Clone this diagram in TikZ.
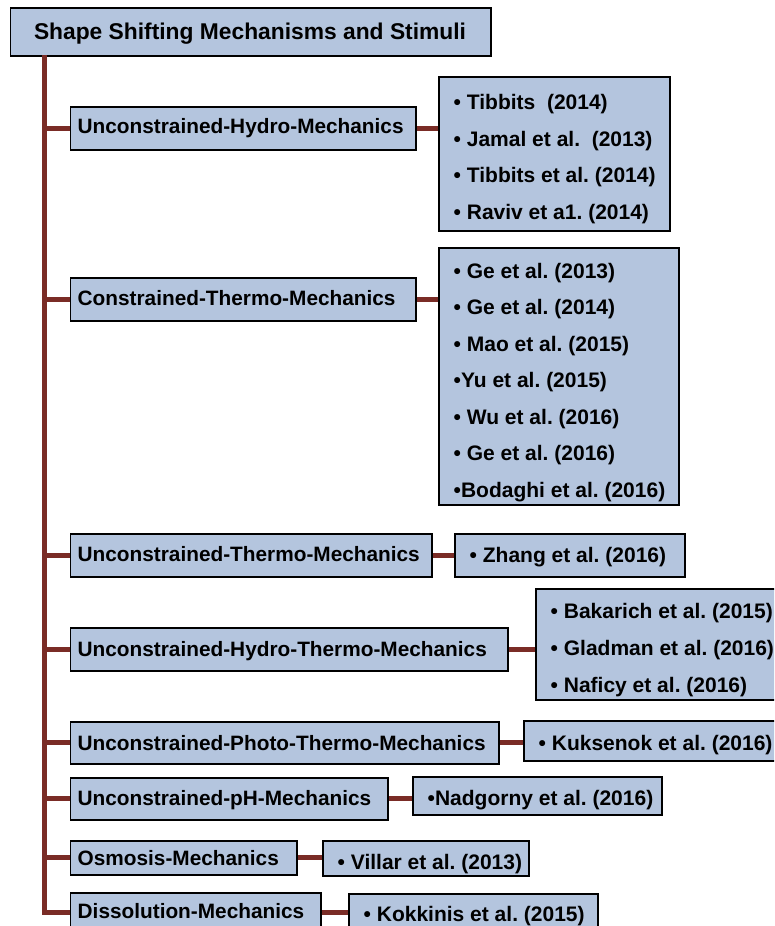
\documentclass[tikz,border=0pt]{standalone}
\usepackage{fontspec}
\setmainfont{Liberation Sans}
\frenchspacing
\definecolor{boxblue}{RGB}{180,197,222}
\definecolor{linkred}{RGB}{122,44,38}
\begin{document}
\begin{tikzpicture}[x=1pt,y=-1pt,
  box/.style={draw=black, line width=1.8pt, fill=boxblue, inner sep=0pt, anchor=north west},
  ttxt/.style={inner sep=0pt, font=\bfseries\fontsize{22.8}{26}\selectfont},
  btxt/.style={anchor=base west, inner sep=0pt, font=\bfseries\fontsize{20.8}{25}\selectfont},
  rtxt/.style={anchor=base west, inner sep=0pt, font=\bfseries\fontsize{21}{25}\selectfont},
  conn/.style={draw=linkred, line width=5pt}]
\clip (0,0) rectangle (774,926);
\fill[white] (0,0) rectangle (774,926);

% root
\node[box, minimum width=480.5pt, minimum height=48pt] (title) at (9.5,7) {};
\node[ttxt, anchor=base] (titletext) at (250,39.3) {Shape Shifting Mechanisms and Stimuli};

% mechanism boxes
\node[box, minimum width=345.5pt, minimum height=43pt] (b1) at (69.5,106) {};
\node[box, minimum width=345.5pt, minimum height=43pt] (b2) at (69.5,277) {};
\node[box, minimum width=361.5pt, minimum height=43pt] (b3) at (69.5,533) {};
\node[box, minimum width=437.5pt, minimum height=43pt] (b4) at (69.5,627) {};
\node[box, minimum width=428.5pt, minimum height=42pt] (b5) at (69.5,721) {};
\node[box, minimum width=317.5pt, minimum height=42pt] (b6) at (69.5,777) {};
\node[box, minimum width=226.5pt, minimum height=34pt] (b7) at (69.5,840) {};
\node[box, minimum width=250.5pt, minimum height=39pt] (b8) at (69.5,892) {};

\node[btxt] (bt1) at (77.5,133) {Unconstrained-Hydro-Mechanics};
\node[btxt] (bt2) at (77.5,305) {Constrained-Thermo-Mechanics};
\node[btxt] (bt3) at (77.5,561.7) {Unconstrained-Thermo-Mechanics};
\node[btxt] (bt4) at (77.5,656) {Unconstrained-Hydro-Thermo-Mechanics};
\node[btxt] (bt5) at (77.5,750) {Unconstrained-Photo-Thermo-Mechanics};
\node[btxt] (bt6) at (77.5,805) {Unconstrained-pH-Mechanics};
\node[btxt] (bt7) at (77.5,865) {Osmosis-Mechanics};
\node[btxt] (bt8) at (77.5,918.3) {Dissolution-Mechanics};

% reference boxes
\node[box, minimum width=231pt, minimum height=154pt] (r1) at (438,76) {};
\node[box, minimum width=240pt, minimum height=257pt] (r2) at (438,247) {};
\node[box, minimum width=230pt, minimum height=43pt] (r3) at (454,533) {};
\node[box, minimum width=250pt, minimum height=111pt] (r4) at (535,588) {};
\node[box, minimum width=260pt, minimum height=40pt] (r5) at (523,720) {};
\node[box, minimum width=249pt, minimum height=38pt] (r6) at (412,776) {};
\node[box, minimum width=206pt, minimum height=35pt] (r7) at (322,840) {};
\node[box, minimum width=249pt, minimum height=40pt] (r8) at (348,893) {};

\node[rtxt] (r1a) at (453.5,109.3) {• Tibbits\ \ (2014)};
\node[rtxt] (r1b) at (453.5,146) {• Jamal et al.\ \ (2013)};
\node[rtxt] (r1c) at (453.5,182.5) {• Tibbits et al. (2014)};
\node[rtxt] (r1d) at (453.5,219) {• Raviv et a1. (2014)};

\node[rtxt] (r2a) at (453.5,278) {• Ge et al. (2013)};
\node[rtxt] (r2b) at (453.5,314.5) {• Ge et al. (2014)};
\node[rtxt] (r2c) at (453.5,351) {• Mao et al. (2015)};
\node[rtxt] (r2d) at (453.5,387.5) {•Yu et al. (2015)};
\node[rtxt] (r2e) at (453.5,424) {• Wu et al. (2016)};
\node[rtxt] (r2f) at (453.5,460.5) {• Ge et al. (2016)};
\node[rtxt] (r2g) at (453.5,497) {•Bodaghi et al. (2016)};

\node[rtxt] (r3a) at (469.5,562) {• Zhang et al. (2016)};

\node[rtxt] (r4a) at (550.5,618) {• Bakarich et al. (2015)};
\node[rtxt] (r4b) at (550.5,655) {• Gladman et al. (2016)};
\node[rtxt] (r4c) at (550.5,692) {• Naficy et al. (2016)};

\node[rtxt] (r5a) at (538.5,750) {• Kuksenok et al. (2016)};
\node[rtxt] (r6a) at (427.5,805.5) {•Nadgorny et al. (2016)};
\node[rtxt] (r7a) at (337.5,869.3) {• Villar et al. (2013)};
\node[rtxt] (r8a) at (363.5,921) {• Kokkinis et al. (2015)};

% tree connectors
\coordinate (trunk) at (44.5,55);
\draw[conn] (trunk) |- (b8.west);
\foreach \b in {b1,b2,b3,b4,b5,b6,b7}
  \draw[conn] (trunk |- \b.west) -- (\b.west);
\foreach \b/\r in {b1/r1,b2/r2,b3/r3,b4/r4,b5/r5,b6/r6,b7/r7,b8/r8}
  \draw[conn] (\b.east) -- (\b.east -| \r.west);
\end{tikzpicture}
\end{document}
